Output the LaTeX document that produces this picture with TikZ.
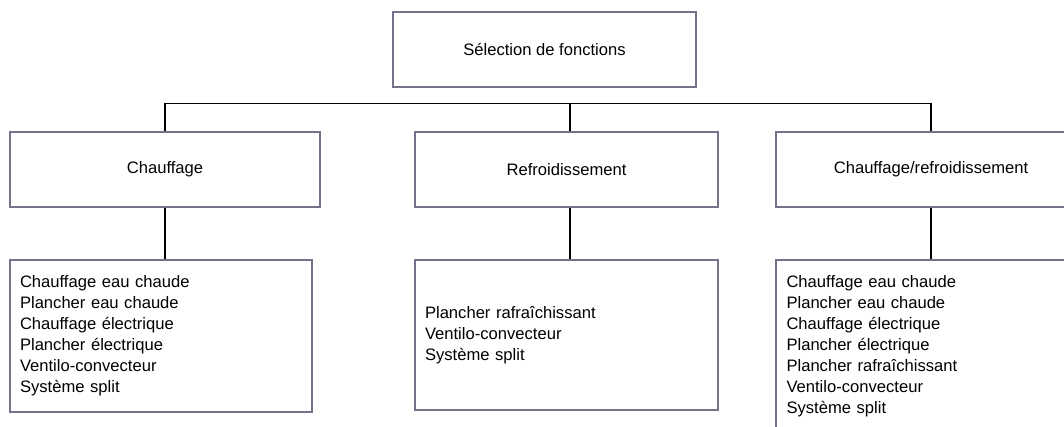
\documentclass[tikz,border=0pt]{standalone}
\usepackage{fontspec}
\setmainfont{Liberation Sans}
\usepackage{tikz}
\usetikzlibrary{positioning}
\definecolor{edge}{RGB}{118,114,138}

\begin{document}
\begin{tikzpicture}[x=1pt,y=-1pt,
  box/.style={draw=edge,line width=1.2pt,minimum height=75pt,inner sep=0pt,font=\fontsize{16.6}{21}\selectfont},
  listbox/.style={draw=edge,line width=1.2pt,align=left,inner xsep=10pt,inner ysep=0pt,font=\fontsize{16.6}{21}\selectfont},
  link/.style={line width=1.3pt,black}]
  \path[use as bounding box,clip] (0,0) rectangle (1064,427);
  \node[box,minimum width=303pt] (sel) at (544.5,49.5) {Sélection de fonctions};
  \node[box,minimum width=310pt] (chauf) at (165,169.5) {Chauffage};
  \node[box,minimum width=303pt] (refr) at (566.5,169.5) {Refroidissement};
  \node[box,minimum width=310pt] (chref) at (931,169.5) {Chauffage/refroidissement};
  \node[listbox,text width=282pt,minimum height=152pt] (chauflist) at (161,336) {Chauffage eau chaude\\ Plancher eau chaude\\ Chauffage électrique\\ Plancher électrique\\ Ventilo-convecteur\\ Système split};
  \node[listbox,text width=283pt,minimum height=150pt] (refrlist) at (566.5,335) {Plancher rafraîchissant\\ Ventilo-convecteur\\ Système split};
  \node[listbox,text width=289pt,inner xsep=10.5pt,minimum height=173pt] (chreflist) at (931,346.5) {Chauffage eau chaude\\ Plancher eau chaude\\ Chauffage électrique\\ Plancher électrique\\ Plancher rafraîchissant\\ Ventilo-convecteur\\ Système split};
  \draw[link] (chauf.north) -- ++(0,-28) -| (chref.north);
  \draw[link] ([xshift=3.5pt]refr.north) -- ++(0,-28);
  \draw[link] (chauf.south) -- (chauf.south |- chauflist.north);
  \draw[link] ([xshift=3.5pt]refr.south) -- ([xshift=3.5pt]refr.south |- refrlist.north);
  \draw[link] (chref.south) -- (chreflist.north);
\end{tikzpicture}
\end{document}
